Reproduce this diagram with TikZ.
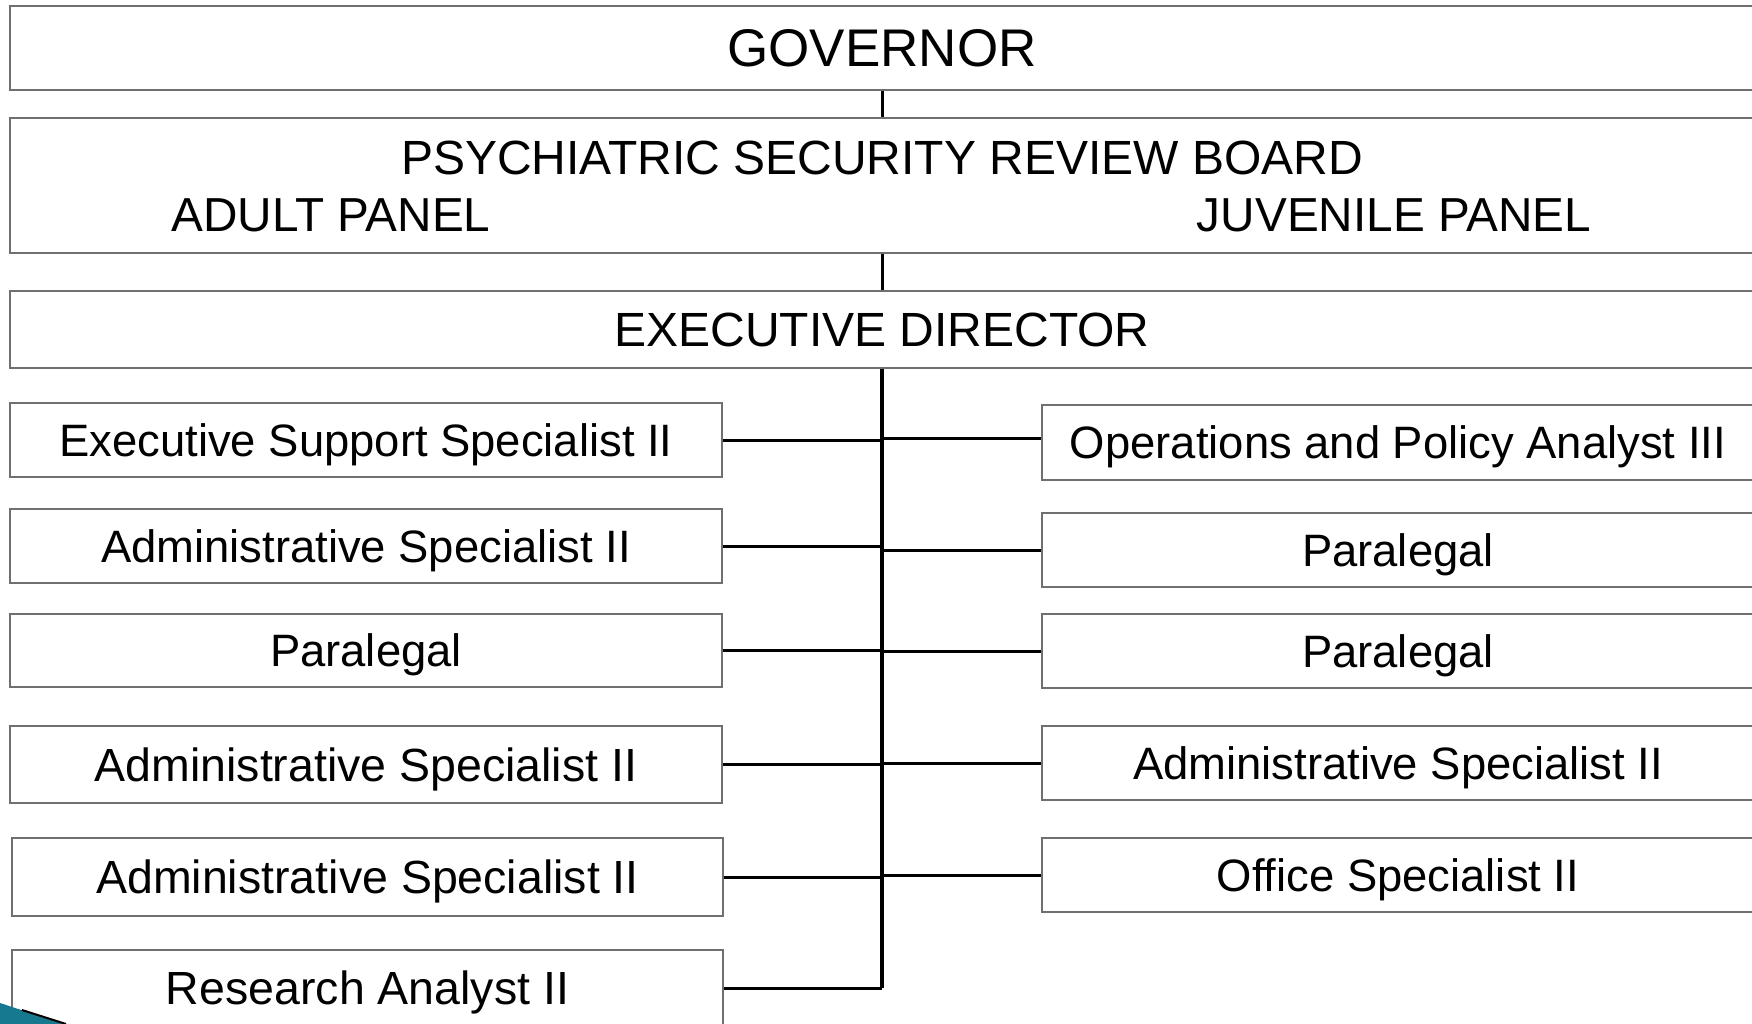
\documentclass[tikz,border=0pt]{standalone}
\usepackage{fontspec}
\setmainfont{Liberation Sans}
\definecolor{boxgray}{HTML}{707070}
\definecolor{swoosh}{HTML}{17798F}
\begin{document}
\begin{tikzpicture}[x=1pt, y=-1pt,
  box/.style={draw=boxgray, line width=1.4pt, rectangle, inner sep=0pt, fill=white},
  head/.style={box, minimum width=1744pt, font=\fontsize{48}{56}\selectfont, text height=34.4pt, text depth=0pt},
  item/.style={box, minimum width=712pt, font=\fontsize{45.4}{54}\selectfont, text height=32.5pt, text depth=0pt},
  itembig/.style={item, font=\fontsize{46.5}{55}\selectfont, text height=33.3pt},
  panel/.style={anchor=base, font=\fontsize{47.7}{56}\selectfont},
  link/.style={black, line width=3pt},
  spine/.style={black, line width=3.5pt}]
\useasboundingbox (0,0) rectangle (1752,1024);
\clip (0,0) rectangle (1752,1024);

% top of the chart
\node[head, minimum height=84pt, font=\fontsize{53}{60}\selectfont, text height=38pt] (gov) at (882,48) {GOVERNOR};
\node[box, minimum width=1744pt, minimum height=135pt] (psrb) at (882,185.5) {};
\node[anchor=base, font=\fontsize{48}{56}\selectfont] (psrbt) at (882,175) {PSYCHIATRIC SECURITY REVIEW BOARD};
\node[panel] (adult) at (331,232) {ADULT PANEL};
\node[panel] (juv) at (1394,232) {JUVENILE PANEL};
\node[head, minimum height=77pt] (ed) at (882,329.5) {EXECUTIVE DIRECTOR};

% left column of positions
\node[item, minimum height=74pt] (l1) at (366,440) {Executive Support Specialist II};
\node[item, minimum height=74pt] (l2) at (366,546) {Administrative Specialist II};
\node[item, minimum height=73pt] (l3) at (366,650.5) {Paralegal};
\node[itembig, minimum height=77pt] (l4) at (366,764.5) {Administrative Specialist II};
\node[itembig, minimum width=711pt, minimum height=78pt] (l5) at (367.5,877) {Administrative Specialist II};
\node[itembig, minimum width=711pt, minimum height=76pt] (l6) at (367.5,988) {Research Analyst II};

% right column of positions
\node[item, minimum height=75pt] (r1) at (1398,442.5) {Operations and Policy Analyst III};
\node[item, minimum height=74pt] (r2) at (1398,550) {Paralegal};
\node[item, minimum height=74pt] (r3) at (1398,651) {Paralegal};
\node[item, minimum height=74pt] (r4) at (1398,763) {Administrative Specialist II};
\node[item, minimum height=74pt] (r5) at (1398,875) {Office Specialist II};

% reporting lines
\draw[link] (gov.south) -- (psrb.north);
\draw[link] (psrb.south) -- (ed.north);
\coordinate (spineend) at (ed.south |- l6.east);
\draw[spine] (ed.south) -- (spineend);
\foreach \n in {l1,l2,l3,l4,l5,l6}
  \draw[link] (\n.east) -- (\n.east -| ed.south);
\draw[link] ([yshift=4.5pt]r1.west) -- ([yshift=4.5pt]r1.west -| ed.south);
\foreach \n in {r2,r3,r4,r5}
  \draw[link] (\n.west) -- (\n.west -| ed.south);

% corner ornament
\fill[swoosh] (0,1003) -- (64,1024) -- (0,1024) -- cycle;
\draw[black, line width=2pt] (22,1010) -- (66,1024);
\end{tikzpicture}
\end{document}
